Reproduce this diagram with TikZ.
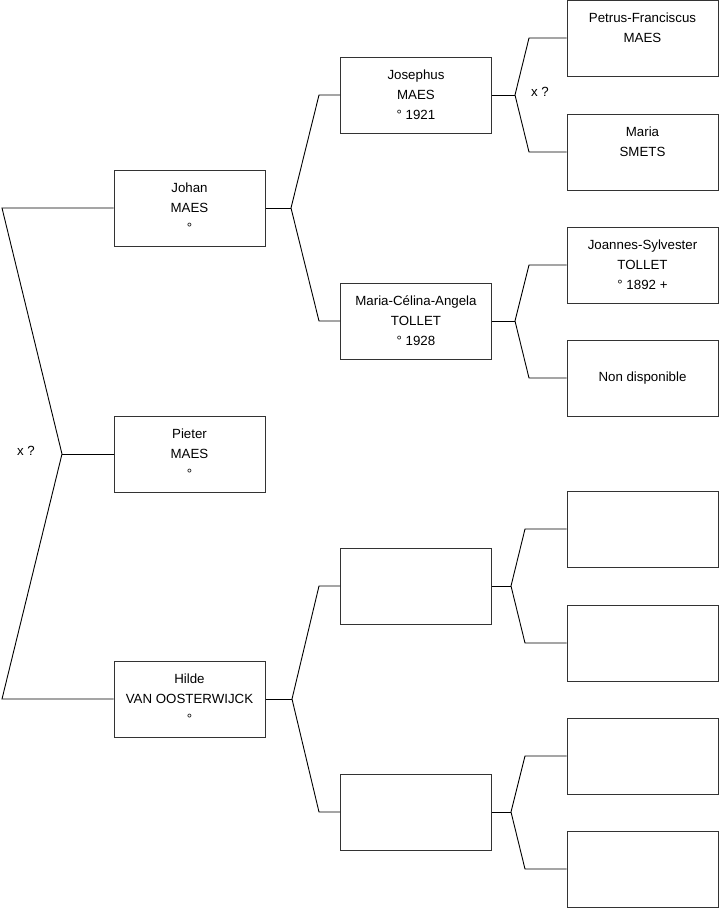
\documentclass[tikz,border=0pt]{standalone}
\usepackage{fontspec}
\setmainfont{Liberation Sans}
\begin{document}
\begin{tikzpicture}[x=1pt,y=-1pt,
  person/.style={draw=black!80,line width=1pt,minimum width=151pt,minimum height=76pt,inner sep=0pt,align=center,font=\fontsize{13.3}{20}\selectfont},
  conn/.style={draw=black,line width=0.9pt,line join=miter},
  lbl/.style={font=\fontsize{13.3}{15}\selectfont,inner sep=0pt}]
\useasboundingbox (0,0) rectangle (719,908);
% generation 1
\node[person] (johan) at (189.5,208) {Johan\\MAES\\°};
\node[person] (pieter) at (189.5,454) {Pieter\\MAES\\°};
\node[person] (hilde) at (189.5,699) {Hilde\\VAN OOSTERWIJCK\\°};
% generation 2
\node[person] (jos) at (416,95) {Josephus\\MAES\\° 1921};
\node[person] (mca) at (416,321) {Maria-Célina-Angela\\TOLLET\\° 1928};
\node[person] (g2c) at (416,586) {};
\node[person] (g2d) at (416,812) {};
% generation 3
\node[person] (pf) at (642.5,38) {Petrus-Franciscus\\MAES\\\phantom{°}};
\node[person] (ms) at (642.5,152) {Maria\\SMETS\\\phantom{°}};
\node[person] (js) at (642.5,265) {Joannes-Sylvester\\TOLLET\\° 1892 +};
\node[person] (nd) at (642.5,378) {Non disponible};
\node[person] (g3e) at (642.5,529) {};
\node[person] (g3f) at (642.5,643) {};
\node[person] (g3g) at (642.5,756) {};
\node[person] (g3h) at (642.5,869) {};
% labels
\node[lbl] (x1) at (26,451) {x ?};
\node[lbl] (x2) at (540,92) {x ?};
% coordinates
\coordinate (a1) at (2,208);
\coordinate (a2) at (62,454);
\coordinate (a3) at (2,699);
\coordinate (b1) at (291,208);
\coordinate (b1u) at (319,95);
\coordinate (b1d) at (319,321);
\coordinate (b2) at (292,699);
\coordinate (b2u) at (319,586);
\coordinate (b2d) at (319,812);
\coordinate (c1) at (515,95);
\coordinate (c1u) at (529,38);
\coordinate (c1d) at (529,152);
\coordinate (c2) at (515,321);
\coordinate (c2u) at (529,265);
\coordinate (c2d) at (529,378);
\coordinate (c3) at (511,586);
\coordinate (c3u) at (525,529);
\coordinate (c3d) at (525,643);
\coordinate (c4) at (511,812);
\coordinate (c4u) at (525,756);
\coordinate (c4d) at (525,869);
% connectors
\draw[conn] (johan.west) -- (a1) -- (a2) -- (a3) -- (hilde.west);
\draw[conn] (a2) -- (pieter.west);
\draw[conn] (johan.east) -- (b1);
\draw[conn] (jos.west) -- (b1u) -- (b1) -- (b1d) -- (mca.west);
\draw[conn] (hilde.east) -- (b2);
\draw[conn] (g2c.west) -- (b2u) -- (b2) -- (b2d) -- (g2d.west);
\draw[conn] (jos.east) -- (c1);
\draw[conn] (pf.west) -- (c1u) -- (c1) -- (c1d) -- (ms.west);
\draw[conn] (mca.east) -- (c2);
\draw[conn] (js.west) -- (c2u) -- (c2) -- (c2d) -- (nd.west);
\draw[conn] (g2c.east) -- (c3);
\draw[conn] (g3e.west) -- (c3u) -- (c3) -- (c3d) -- (g3f.west);
\draw[conn] (g2d.east) -- (c4);
\draw[conn] (g3g.west) -- (c4u) -- (c4) -- (c4d) -- (g3h.west);
\end{tikzpicture}
\end{document}
